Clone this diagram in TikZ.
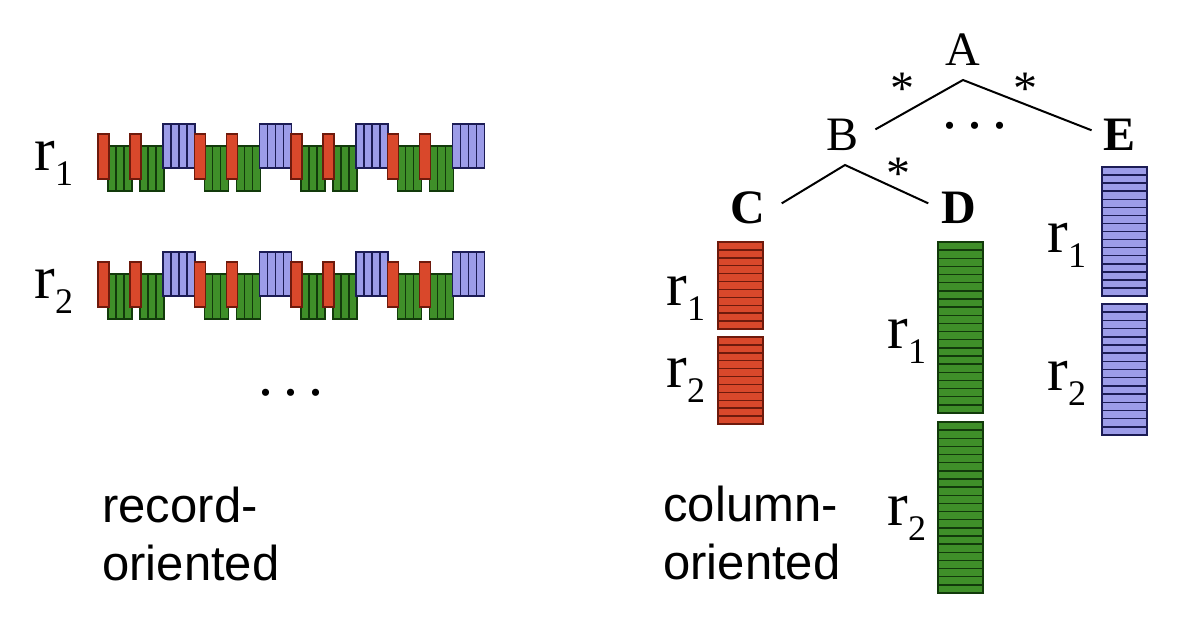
\documentclass[tikz,border=0pt]{standalone}
\usepackage{fontspec}
\setmainfont{Liberation Serif}
\setsansfont{Liberation Sans}
\definecolor{cellRed}{HTML}{D9482B}
\definecolor{cellRedDark}{HTML}{6E1A0C}
\definecolor{cellGreen}{HTML}{3F8F29}
\definecolor{cellGreenDark}{HTML}{123A0B}
\definecolor{cellBlue}{HTML}{9C9CE8}
\definecolor{cellBlueDark}{HTML}{1C1C55}
\newcommand{\rsub}[1]{{\fontsize{31}{31}\selectfont r}\raisebox{-7.5pt}{\fontsize{18}{18}\selectfont #1}}
\newcommand{\threeDots}{.\hspace{5pt}.\hspace{5pt}.}

\begin{document}
\begin{tikzpicture}
[x=0.5pt,y=-0.5pt,
  redCell/.style={fill=cellRed,draw=cellRedDark,line width=0.7pt},
  greenCell/.style={fill=cellGreen,draw=cellGreenDark,line width=0.7pt},
  blueCell/.style={fill=cellBlue,draw=cellBlueDark,line width=0.7pt},
  rowLabel/.style={anchor=base west,inner sep=0pt},
  treeLabel/.style={anchor=base,inner sep=0pt,font=\fontsize{24}{24}\selectfont},
  starLabel/.style={anchor=north,inner sep=0pt,font=\fontsize{24}{24}\selectfont},
  dotsLabel/.style={anchor=base,inner sep=0pt,font=\fontsize{30}{30}\selectfont},
  captionText/.style={anchor=base west,inner sep=0pt,align=left,font=\sffamily\fontsize{24.5}{29}\selectfont},
  treeLine/.style={-,line width=1pt}]
\useasboundingbox (0,0) rectangle (1196,634);

%% record-oriented rows
\foreach \ry in {124, 252} {
  \foreach \g in {0,...,3} {
    \pgfmathsetmacro{\gx}{98+96.5*\g}
    \foreach \k in {0,1,2} {
      \draw[greenCell] (\gx+10+8*\k,\ry+22) rectangle ++(8,45);
      \draw[greenCell] (\gx+42+8*\k,\ry+22) rectangle ++(8,45);
    }
    \foreach \k in {0,...,3} {
      \draw[blueCell] (\gx+65+8*\k,\ry) rectangle ++(8,44);
    }
    \draw[redCell] (\gx,\ry+10) rectangle ++(11,45);
    \draw[redCell] (\gx+32,\ry+10) rectangle ++(11,45);
  }
}
\node[rowLabel] (recR1) at (34,170) {\rsub{1}};
\node[rowLabel] (recR2) at (34,298) {\rsub{2}};
\node[dotsLabel] (recDots) at (291,395) {\threeDots};
%% base anchor sits on the last line
\node[captionText] (recText) at (102,580) {record-\\oriented};

%% column-oriented stacks
\foreach \cx/\cy/\h/\n/\fc/\dc in {718/242/87/11/cellRed/cellRedDark,
    718/337/87/11/cellRed/cellRedDark,
    938/242/171/21/cellGreen/cellGreenDark,
    938/422/171/21/cellGreen/cellGreenDark,
    1102/167/129/16/cellBlue/cellBlueDark,
    1102/304/131/16/cellBlue/cellBlueDark} {
  \foreach \i in {1,...,\n} {
    \draw[fill=\fc,draw=\dc,line width=0.75pt] (\cx,{\cy+(\i-1)*\h/\n}) rectangle ++(45,{\h/\n});
  }
}
\foreach \nodename/\x/\y/\s in {colCR1/666/305/1, colCR2/666/387/2,
    colDR1/887/348/1, colDR2/887/525/2, colER1/1047/252/1, colER2/1047/390/2} {
  \node[rowLabel] (\nodename) at (\x,\y) {\rsub{\s}};
}
\node[captionText] (colText) at (663,579) {column-\\oriented};

%% schema tree
\node[treeLabel] (A) at (963,65) {A};
\node[treeLabel] (B) at (843,150) {B};
\node[treeLabel] (E) at (1120,150) {\bfseries E};
\node[treeLabel] (C) at (748,223) {\bfseries C};
\node[treeLabel] (D) at (959,223) {\bfseries D};
\coordinate (A-fork) at (963,80);
\coordinate (B-fork) at (845,165);
\draw[treeLine] ([shift={(16,-5)}]B.east) -- (A-fork) -- ([shift={(-12,-4)}]E.west);
\draw[treeLine] ([shift={(16,-4)}]C.east) -- (B-fork) -- ([shift={(-13,-4)}]D.west);
\node[starLabel] (starAB) at (902,73) {*};
\node[starLabel] (starAE) at (1025,73) {*};
\node[starLabel] (starBD) at (898,158) {*};
\node[dotsLabel] (treeDots) at (975,128) {\threeDots};
\end{tikzpicture}
\end{document}
